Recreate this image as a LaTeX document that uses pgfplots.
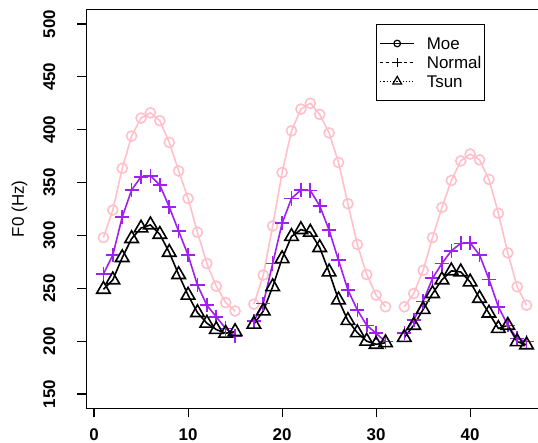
\documentclass[border=0pt]{standalone}
\usepackage{fontspec}
\setmainfont{Liberation Sans}
\usepackage{pgfplots}
\usepackage{pgfplotstable}
\pgfplotsset{compat=1.18}

\definecolor{rpink}{RGB}{255,192,203}
\definecolor{rpurple}{RGB}{160,32,240}

% F0 contours, one row per frame; nan breaks the line between phrases
\pgfplotstableread{
x   moe    normal  tsun
1   298    263.5   249
2   324    281.5   258
3   363.5  317.5   279
4   394    343     297
5   411    355.5   307
6   416    356.5   310
7   408.5  347.5   301
8   388    327     284
9   361    304     263
10  335    281.5   243.5
11  303    253     227
12  273.5  234     217
13  252    223     211
14  236.5  212     207.5
15  228.5  205     209
16  nan    nan     nan
17  235    219     216
18  262.5  235.5   228.5
19  309    273.5   251.5
20  359.5  311.5   278
21  399    335     299
22  419.5  343     305.5
23  425    342.5   303
24  414.5  328     288.5
25  397    305     265.5
26  369    276.5   239
27  330    248.5   219.5
28  291.5  229.5   208
29  263    215     200
30  243.5  207.5   197
31  232.5  199.5   198.5
32  nan    nan     nan
33  232.5  207.5   203.5
34  245    220     215
35  267    237.5   230
36  298    259.5   245
37  326.5  273.5   258
38  352    285.5   266.5
39  370.5  292.5   265.5
40  377    293     256
41  371.5  281.5   240.5
42  353    258.5   226.5
43  321    232.5   212
44  283.5  215     215
45  251.5  202.5   199.5
46  234    199.5   196.5
}\fzero

\begin{document}
\begin{tikzpicture}
\begin{axis}[
    name=ax,
    scale only axis, width=457bp, height=399bp,
    xmin=-0.8, xmax=47.8, ymin=136.5, ymax=513.9,
    xtick={0,10,20,30,40}, ytick={150,200,...,500},
    xtick pos=left, ytick pos=left,
    tick align=outside, major tick length=9bp,
    axis line style={line width=1.1bp},
    tick style={line width=1.1bp, black},
    /pgf/number format/assume math mode=true,
    ticklabel style={font=\fontsize{17}{17}\selectfont\bfseries},
    xticklabel style={anchor=north, inner sep=0pt},
    yticklabel style={rotate=90, anchor=south, inner sep=0pt},
    xticklabel shift=11bp, yticklabel shift=22bp,
    ylabel={F0 (Hz)},
    ylabel style={font=\fontsize{17}{17}\selectfont, at={(axis description cs:-0.1466,0.5)}, anchor=center},
    unbounded coords=jump,
    legend cell align=left,
    legend image code/.code={\draw[mark repeat=2, mark phase=2, #1] plot coordinates {(0bp,0bp) (17bp,0bp) (34bp,0bp)};},
    legend style={at={(axis cs:30,500)}, anchor=north west, draw=black, line width=1bp,
        inner xsep=3bp, inner ysep=9.5bp, row sep=0pt,
        font=\fontsize{17}{17}\selectfont,
        nodes={inner xsep=0pt, inner ysep=3.25bp, text height=12.5bp, text depth=0pt},
        /tikz/every odd column/.style={column sep=12bp}},
]
\addplot[rpink, line width=1.6bp, mark=o, mark size=5bp, mark options={solid}, forget plot] table[x=x, y=moe] {\fzero};
\addplot[rpurple, line width=1.6bp, mark=+, mark size=7.1bp, mark options={solid}, forget plot] table[x=x, y=normal] {\fzero};
\addplot[black, line width=1.6bp, mark=triangle, mark size=7.8bp, mark options={solid}, forget plot] table[x=x, y=tsun] {\fzero};

\addlegendimage{black, solid, line width=1.2bp, mark=o, mark size=3.3bp, mark options={solid}}
\addlegendentry{Moe}
\addlegendimage{black, dashed, line width=1.2bp, mark=+, mark size=4.7bp, mark options={solid}}
\addlegendentry{Normal\hspace{12bp}}
\addlegendimage{black, dotted, line width=1.2bp, mark=triangle, mark size=5.1bp, mark options={solid}}
\addlegendentry{Tsun}
\end{axis}
\pgfresetboundingbox
\path[use as bounding box] (ax.south west) ++(-86.5bp,-34.7bp) rectangle ++(538bp,443bp);
\end{tikzpicture}
\end{document}
